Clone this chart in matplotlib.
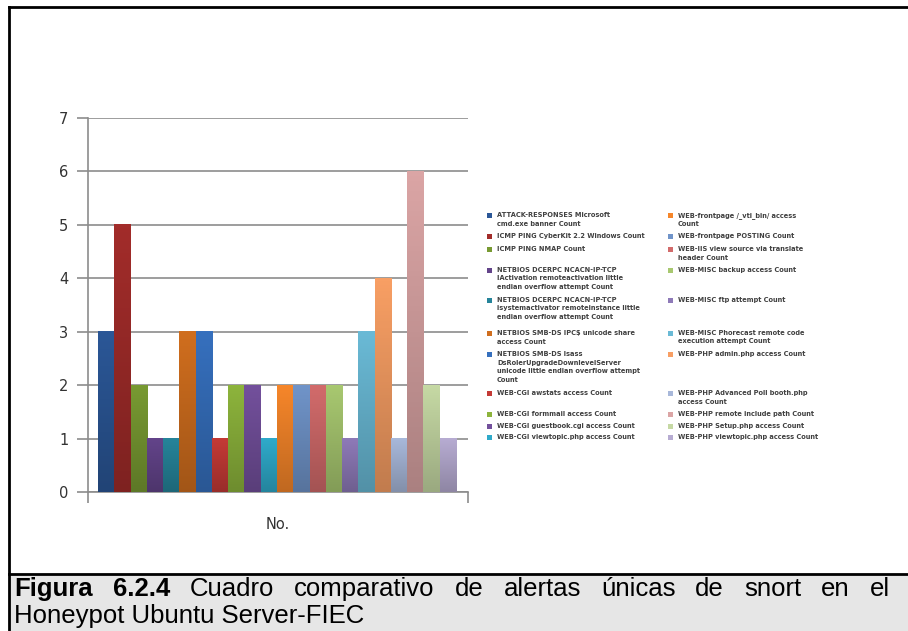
import numpy as np
import matplotlib
matplotlib.use("Agg")
import matplotlib.pyplot as plt
from matplotlib.colors import LinearSegmentedColormap, to_rgb
from matplotlib.patches import Rectangle

# one series per snort alert, single category "No."
alerts = [
    "ATTACK-RESPONSES Microsoft\ncmd.exe banner Count",
    "ICMP PING CyberKit 2.2 Windows Count",
    "ICMP PING NMAP Count",
    "NETBIOS DCERPC NCACN-IP-TCP\nIActivation remoteactivation little\nendian overflow attempt Count",
    "NETBIOS DCERPC NCACN-IP-TCP\nisystemactivator remoteinstance little\nendian overflow attempt Count",
    "NETBIOS SMB-DS IPC$ unicode share\naccess Count",
    "NETBIOS SMB-DS lsass\nDsRolerUpgradeDownlevelServer\nunicode little endian overflow attempt\nCount",
    "WEB-CGI awstats access Count",
    "WEB-CGI formmail access Count",
    "WEB-CGI guestbook.cgi access Count",
    "WEB-CGI viewtopic.php access Count",
    "WEB-frontpage /_vti_bin/ access\nCount",
    "WEB-frontpage POSTING Count",
    "WEB-IIS view source via translate\nheader Count",
    "WEB-MISC backup access Count",
    "WEB-MISC ftp attempt Count",
    "WEB-MISC Phorecast remote code\nexecution attempt Count",
    "WEB-PHP admin.php access Count",
    "WEB-PHP Advanced Poll booth.php\naccess Count",
    "WEB-PHP remote include path Count",
    "WEB-PHP Setup.php access Count",
    "WEB-PHP viewtopic.php access Count",
]
counts = [3, 5, 2, 1, 1, 3, 3, 1, 2, 2, 1, 2, 2, 2, 2, 1, 3, 4, 1, 6, 2, 1]
colors = ["#2B5797", "#A22C2A", "#789A32", "#63448A", "#26849A", "#D06E1E",
          "#3670BE", "#C43A36", "#8DB43C", "#73509C", "#2FAACA", "#F6862A",
          "#7094C9", "#D26B6B", "#A8C870", "#8E7AB8", "#6ABAD6", "#F89F64",
          "#A8B8DA", "#DBA5A5", "#C6D9A4", "#B7ACD2"]
yticks = list(range(0, 8))
category = "No."
caption_bold = "Figura 6.2.4"
caption_line1 = "Cuadro comparativo de alertas únicas de snort en el"
caption_line2 = "Honeypot Ubuntu Server-FIEC"

W, H = 908, 631
fig = plt.figure(figsize=(W / 100, H / 100), dpi=100)
fig.patch.set_facecolor("white")

def fx(px):
    return px / W

def fy(py):
    return 1 - py / H

ax = fig.add_axes([fx(88), fy(492), fx(468) - fx(88), fy(118) - fy(492)])
x = np.arange(len(counts))
bars = ax.bar(x, counts, width=1.0, color="none", edgecolor="none", zorder=3)
grad = np.linspace(0, 1, 64).reshape(-1, 1)
for b, c in zip(bars, colors):
    top = np.array(to_rgb(c))
    cmap = LinearSegmentedColormap.from_list("g", [top * 0.78, top])
    ax.imshow(grad, extent=[b.get_x(), b.get_x() + b.get_width(), 0, b.get_height()],
              origin="lower", aspect="auto", cmap=cmap, zorder=3)

xmin, xmax = -1.12, 21.5 + 0.74
ax.set_xlim(xmin, xmax)
ax.set_ylim(0, 7)
ax.set_yticks(yticks)
ax.yaxis.grid(True, color="#8C8C8C", lw=1.2, zorder=0)
ax.set_axisbelow(True)
for s in ["top", "right"]:
    ax.spines[s].set_visible(False)
for s in ["left", "bottom"]:
    ax.spines[s].set_color("#8C8C8C")
    ax.spines[s].set_linewidth(1.2)
ax.tick_params(axis="y", length=8, width=1.2, color="#8C8C8C", pad=6,
               labelsize=10.5, labelcolor="#333333")
ax.set_xticks([(xmin + xmax) / 2], [category])
ax.set_xticks([xmin, xmax], minor=True)
ax.tick_params(axis="x", which="major", length=0, pad=18, labelsize=10.5,
               labelcolor="#333333")
ax.tick_params(axis="x", which="minor", length=8, width=1.2, color="#8C8C8C")

# legend, two columns, rows aligned as in the spreadsheet
row_tops = [212, 233, 246, 267, 297, 330, 351, 390, 411, 423, 434]
col_x = [487, 668]
for i, (lab, c) in enumerate(zip(alerts, colors)):
    col, row = divmod(i, 11)
    ytop = row_tops[row]
    fig.patches.append(Rectangle((fx(col_x[col]), fy(ytop + 6)), fx(5), 5 / H,
                                 transform=fig.transFigure, facecolor=c,
                                 edgecolor="none"))
    fig.text(fx(col_x[col] + 10), fy(ytop), lab, fontsize=4.8, va="top",
             ha="left", color="#404040", fontweight="bold", linespacing=1.5)

# frame and caption box
fig.patches.append(Rectangle((fx(9), 0), 1, fy(575),
                             transform=fig.transFigure, facecolor="#E6E6E6",
                             edgecolor="none", zorder=0))
fig.add_artist(plt.Line2D([fx(9), 1], [fy(574), fy(574)], color="black", lw=2,
                          transform=fig.transFigure))
fig.add_artist(plt.Line2D([fx(9), fx(9)], [fy(7), 0], color="black", lw=2,
                          transform=fig.transFigure))
fig.add_artist(plt.Line2D([fx(9), 1], [fy(7), fy(7)], color="black", lw=2,
                          transform=fig.transFigure))

# justified first caption line
words = [(w, "bold") for w in caption_bold.split()] + \
        [(w, "normal") for w in caption_line1.split()]
fig.canvas.draw()
renderer = fig.canvas.get_renderer()
texts = []
for w, wt in words:
    t = fig.text(0, fy(596), w, fontsize=18.5, fontweight=wt,
                 family="Liberation Sans", va="baseline", ha="left")
    texts.append(t)
widths = [t.get_window_extent(renderer).width for t in texts]
left, right = 14, 890
gap = (right - left - sum(widths)) / (len(texts) - 1)
pos = left
for t, wd in zip(texts, widths):
    t.set_x(fx(pos))
    pos += wd + gap
fig.text(fx(14), fy(623), caption_line2, fontsize=18.5, family="Liberation Sans",
         va="baseline", ha="left")

fig.savefig("out.png", dpi=100)
